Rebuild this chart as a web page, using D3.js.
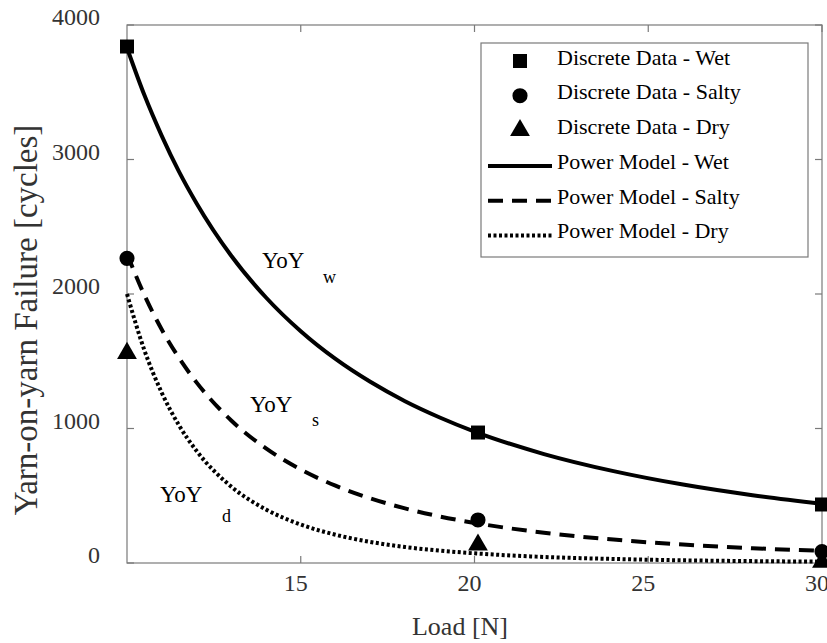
<!DOCTYPE html>
<html lang="en">
	<head>
		<meta charset="utf-8">
		<title>Yarn-on-yarn failure</title>
		<script type="text/javascript" src="https://cdn.jsdelivr.net/npm/d3@7"></script>
		<style type="text/css">
			body { margin: 0; background: #fff; }
			svg text { font-family: "Liberation Serif", "Times New Roman", Times, serif; }
		</style>
	</head>
	<body>
        <svg width="827" height="643"></svg>
		<script type="text/javascript">

            // discrete measurements
            const loads = [10, 20.1, 30];
            const wetData = [3840, 970, 435];
            const saltyData = [2265, 320, 85];
            const dryData = [1560, 135, 8];

            // power model curves
            const curveLoads = [10, 10.5, 11, 11.5, 12, 13, 14, 15, 16, 17, 18, 19, 20, 22, 24, 26, 28, 30];
            const wetCurve = [3830, 3479, 3176, 2908, 2675, 2284, 1974, 1723, 1517, 1347, 1203, 1082, 977, 810, 683, 583, 504, 440];
            const saltyCurve = [2300, 1992, 1736, 1523, 1343, 1060, 852, 695, 575, 481, 406, 346, 298, 225, 174, 137, 110, 90];
            const dryCurve = [2000, 1582, 1266, 1022, 834, 568, 398, 286, 210, 157, 119, 92, 72, 45, 30, 20, 14, 10];

            const xTicks = [15, 20, 25, 30];
            const yTicks = [0, 1000, 2000, 3000, 4000];

            const legendLabels = ['Discrete Data - Wet', 'Discrete Data - Salty', 'Discrete Data - Dry',
                'Power Model - Wet', 'Power Model - Salty', 'Power Model - Dry'];

            const margin = { left: 127, right: 5, top: 25, bottom: 80 };

            const svg = d3.select('svg');
            const width = +svg.attr('width');
            const height = +svg.attr('height');
            const innerWidth = width - margin.left - margin.right;
            const innerHeight = height - margin.top - margin.bottom;

            const g = svg.append('g')
                .attr('transform', `translate(${margin.left}, ${margin.top})`);

            const xScale = d3.scaleLinear().domain([10, 30]).range([0, innerWidth]);
            const yScale = d3.scaleLinear().domain([0, 4000]).range([innerHeight, 0]);

            const axisColor = '#7a7a7a';
            const labelColor = '#333';

            // frame
            g.append('rect')
                .attr('width', innerWidth)
                .attr('height', innerHeight)
                .attr('fill', 'none')
                .attr('stroke', axisColor)
                .attr('stroke-width', 1.2);

            // inward ticks on all four sides
            const tk = 7;
            xTicks.forEach(t => {
                const x = xScale(t);
                g.append('line').attr('x1', x).attr('x2', x).attr('y1', innerHeight).attr('y2', innerHeight - tk)
                    .attr('stroke', axisColor).attr('stroke-width', 1.2);
                g.append('line').attr('x1', x).attr('x2', x).attr('y1', 0).attr('y2', tk)
                    .attr('stroke', axisColor).attr('stroke-width', 1.2);
            });
            yTicks.forEach(t => {
                const y = yScale(t);
                g.append('line').attr('x1', 0).attr('x2', tk).attr('y1', y).attr('y2', y)
                    .attr('stroke', axisColor).attr('stroke-width', 1.2);
                g.append('line').attr('x1', innerWidth).attr('x2', innerWidth - tk).attr('y1', y).attr('y2', y)
                    .attr('stroke', axisColor).attr('stroke-width', 1.2);
            });

            g.selectAll('.xlab').data(xTicks)
                .enter().append('text')
                .attr('x', d => xScale(d) - 5)
                .attr('y', innerHeight + 28)
                .attr('text-anchor', 'middle')
                .style('font-size', '24px')
                .attr('fill', labelColor)
                .text(d => d);

            g.selectAll('.ylab').data(yTicks)
                .enter().append('text')
                .attr('x', -27)
                .attr('y', d => yScale(d))
                .attr('text-anchor', 'end')
                .style('font-size', '24px')
                .attr('fill', labelColor)
                .text(d => d);

            svg.append('text')
                .attr('x', 460)
                .attr('y', 635)
                .attr('text-anchor', 'middle')
                .style('font-size', '26px')
                .attr('fill', labelColor)
                .text('Load [N]');

            svg.append('text')
                .attr('transform', 'translate(37, 320) rotate(-90)')
                .attr('text-anchor', 'middle')
                .style('font-size', '33px')
                .attr('fill', labelColor)
                .text('Yarn-on-yarn Failure [cycles]');

            // model curves
            const line = d3.line()
                .x((d, i) => xScale(curveLoads[i]))
                .y(d => yScale(d))
                .curve(d3.curveMonotoneX);

            const styles = [
                { data: wetCurve, dash: null },
                { data: saltyCurve, dash: '15,9' },
                { data: dryCurve, dash: '3,2.5' }
            ];
            styles.forEach(s => {
                g.append('path')
                    .attr('d', line(s.data))
                    .attr('fill', 'none')
                    .attr('stroke', '#000')
                    .attr('stroke-width', 4)
                    .attr('stroke-dasharray', s.dash);
            });

            // discrete points
            const sq = d3.symbol().type(d3.symbolSquare).size(196);
            const ci = d3.symbol().type(d3.symbolCircle).size(180);
            const tri = d3.symbol().type(d3.symbolTriangle).size(170);

            const pointSets = [
                { data: wetData, sym: sq },
                { data: saltyData, sym: ci },
                { data: dryData, sym: tri }
            ];
            pointSets.forEach(p => {
                g.selectAll(null).data(p.data)
                    .enter().append('path')
                    .attr('transform', (d, i) => `translate(${xScale(loads[i])}, ${yScale(d)})`)
                    .attr('d', p.sym())
                    .attr('fill', '#000');
            });

            // annotations
            const notes = [
                { x: 262, y: 268, main: 'YoY', sub: 'w', sx: 323, sy: 283 },
                { x: 250, y: 412, main: 'YoY', sub: 's', sx: 312, sy: 426 },
                { x: 160, y: 502, main: 'YoY', sub: 'd', sx: 222, sy: 522 }
            ];
            notes.forEach(n => {
                svg.append('text').attr('x', n.x).attr('y', n.y)
                    .style('font-size', '23px').attr('fill', '#000').text(n.main);
                svg.append('text').attr('x', n.sx).attr('y', n.sy)
                    .style('font-size', '18px').attr('fill', '#000').text(n.sub);
            });

            // legend
            const lg = svg.append('g');
            lg.append('rect')
                .attr('x', 481).attr('y', 43)
                .attr('width', 327).attr('height', 214)
                .attr('fill', '#fff')
                .attr('stroke', axisColor)
                .attr('stroke-width', 1.2);

            const rowY = i => 57 + i * 34.7;
            legendLabels.forEach((lab, i) => {
                lg.append('text')
                    .attr('x', 557)
                    .attr('y', rowY(i))
                    .attr('dy', '0.35em')
                    .style('font-size', '22px')
                    .attr('fill', '#000')
                    .text(lab);
            });
            [sq, ci, tri].forEach((s, i) => {
                lg.append('path')
                    .attr('transform', `translate(520, ${rowY(i) + 4})`)
                    .attr('d', s())
                    .attr('fill', '#000');
            });
            styles.forEach((s, i) => {
                lg.append('line')
                    .attr('x1', 488).attr('x2', 552)
                    .attr('y1', rowY(i + 3) + 5).attr('y2', rowY(i + 3) + 5)
                    .attr('stroke', '#000')
                    .attr('stroke-width', 4)
                    .attr('stroke-dasharray', s.dash);
            });

		</script>
	</body>
</html>
